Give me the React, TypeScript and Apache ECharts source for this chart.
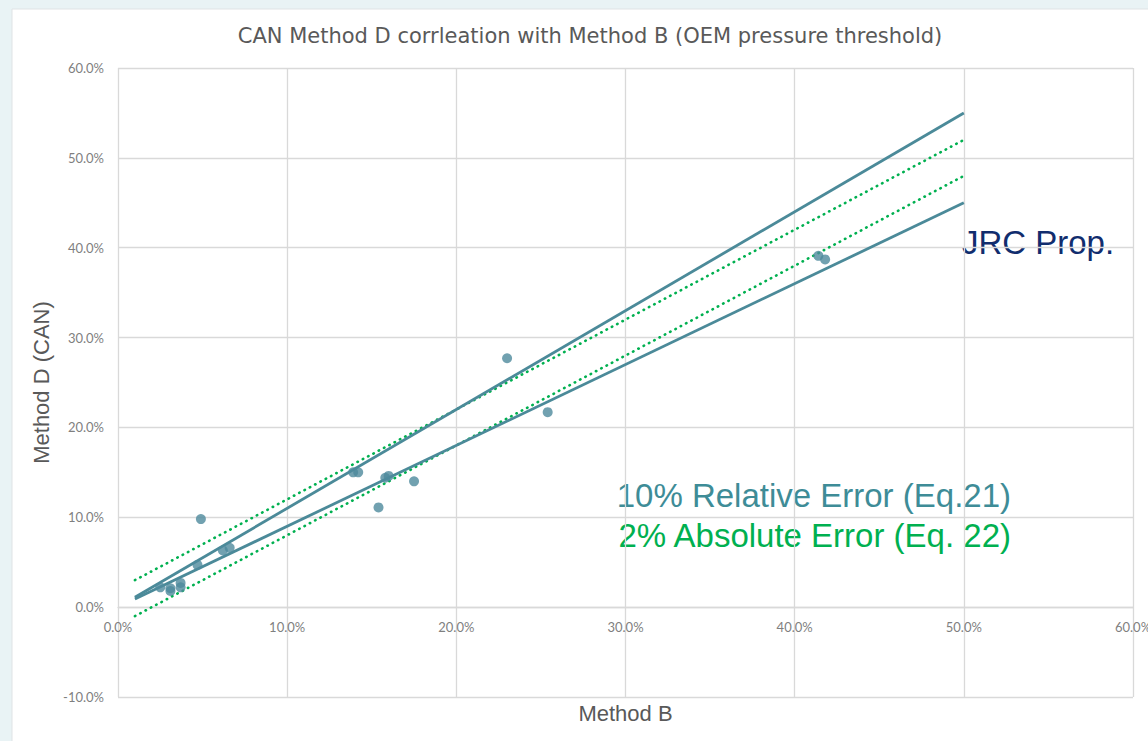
import React, { useEffect, useRef } from "react";
import * as echarts from "echarts";

const titleText = "CAN Method D corrleation with Method B (OEM pressure threshold)";
const xName = "Method B";
const yName = "Method D (CAN)";

// measured points (Method B %, Method D %)
const methodB = [2.5, 3.1, 3.1, 3.7, 3.7, 4.7, 4.9, 6.2, 6.6, 13.9, 14.2, 15.8, 16.0, 15.4, 17.5, 23.0, 25.4, 41.4, 41.8];
const methodD = [2.2, 2.1, 1.8, 2.7, 2.2, 4.7, 9.8, 6.3, 6.6, 15.0, 15.0, 14.4, 14.6, 11.1, 14.0, 27.7, 21.7, 39.1, 38.7];

// error band end points
const bandX = [1, 50];
const relUpper = [1.1, 55];
const relLower = [0.9, 45];
const absUpper = [3, 52];
const absLower = [-1, 48];

const annotations = [
  { text: "JRC Prop.", color: "#112d6e" },
  { text: "10% Relative Error (Eq.21)", color: "#3e8c97" },
  { text: "2% Absolute Error (Eq. 22)", color: "#00b050" },
];

const yMin = -10;
const yMax = 60;
const teal = "#4b8a99";
const green = "#00b050";

export default function App() {
  const ref = useRef<HTMLDivElement>(null);
  useEffect(() => {
    if (!ref.current) return;
    const chart = echarts.init(ref.current, null, { renderer: "svg" });
    const pair = (ys: number[]) => bandX.map((x, i) => [x, ys[i]]);
    const solid = { color: teal, width: 2.8 };
    const dotted = { color: green, width: 2.6, type: [0.5, 5.5], cap: "round" };
    const gridColor = "#d9d9d9";
    const gridTop = 68;
    const gridBottom = 44;
    const gridH = 741 - gridTop - gridBottom;
    // lift the x axis so that it sits on the y = 0 line
    const zeroOffset = -((0 - yMin) / (yMax - yMin)) * gridH;
    chart.setOption({
      animation: false,
      backgroundColor: "#e9f3f5",
      grid: { left: 118, right: 15, top: gridTop, bottom: gridBottom, containLabel: false, outerBoundsMode: "none" },
      graphic: [
        {
          type: "rect",
          z: -10,
          silent: true,
          shape: { x: 12, y: 9, width: 1140, height: 740 },
          style: { fill: "#ffffff", stroke: "#dfe3e5", lineWidth: 1 },
        },
        {
          type: "text",
          x: 590,
          y: 36,
          style: {
            text: titleText,
            fill: "#595959",
            font: "21px 'DejaVu Sans', sans-serif",
            align: "center",
            verticalAlign: "middle",
          },
        },
        {
          type: "text",
          x: 1038,
          y: 242,
          style: {
            text: annotations[0].text,
            fill: annotations[0].color,
            font: "33px 'Liberation Sans', Arial, sans-serif",
            align: "center",
            verticalAlign: "middle",
          },
        },
        {
          type: "text",
          x: 1011,
          y: 495,
          style: {
            text: annotations[1].text,
            fill: annotations[1].color,
            font: "33px 'Liberation Sans', Arial, sans-serif",
            align: "right",
            verticalAlign: "middle",
          },
        },
        {
          type: "text",
          x: 1011,
          y: 535,
          style: {
            text: annotations[2].text,
            fill: annotations[2].color,
            font: "33px 'Liberation Sans', Arial, sans-serif",
            align: "right",
            verticalAlign: "middle",
          },
        },
      ],
      xAxis: {
        type: "value",
        min: 0,
        max: 60,
        interval: 10,
        position: "bottom",
        offset: zeroOffset,
        name: xName,
        nameLocation: "middle",
        nameGap: 95,
        nameTextStyle: { color: "#595959", fontSize: 22, fontFamily: "'Liberation Sans', Arial, sans-serif" },
        axisLine: { show: true, onZero: false, lineStyle: { color: gridColor, width: 1.3 } },
        axisTick: { show: false },
        axisLabel: {
          color: "#7f7f7f",
          fontSize: 13,
          fontFamily: "Lato, sans-serif",
          margin: 13,
          formatter: (v: number) => v.toFixed(1) + "%",
        },
        splitLine: { show: true, lineStyle: { color: gridColor, width: 1.3 } },
      },
      yAxis: {
        type: "value",
        min: yMin,
        max: yMax,
        interval: 10,
        name: yName,
        nameLocation: "middle",
        nameGap: 64,
        nameRotate: 90,
        nameTextStyle: { color: "#595959", fontSize: 22, fontFamily: "'Liberation Sans', Arial, sans-serif" },
        axisLine: { show: false, onZero: false },
        axisTick: { show: false },
        axisLabel: {
          color: "#7f7f7f",
          fontSize: 13,
          fontFamily: "Lato, sans-serif",
          margin: 14,
          formatter: (v: number) => v.toFixed(1) + "%",
        },
        splitLine: { show: true, lineStyle: { color: gridColor, width: 1.3 } },
      },
      series: [
        { type: "line", data: pair(absUpper), symbol: "none", lineStyle: dotted, z: 2 },
        { type: "line", data: pair(absLower), symbol: "none", lineStyle: dotted, z: 2 },
        { type: "line", data: pair(relUpper), symbol: "none", lineStyle: solid, z: 3 },
        { type: "line", data: pair(relLower), symbol: "none", lineStyle: solid, z: 3 },
        {
          type: "scatter",
          data: methodB.map((x, i) => [x, methodD[i]]),
          symbolSize: 10,
          itemStyle: { color: "#4e8a9c" },
          z: 4,
        },
      ],
    });
    return () => chart.dispose();
  }, []);
  return (
    <div
      ref={ref}
      style={{ position: "fixed", left: 0, top: 0, width: 1148, height: 741 }}
    />
  );
}
